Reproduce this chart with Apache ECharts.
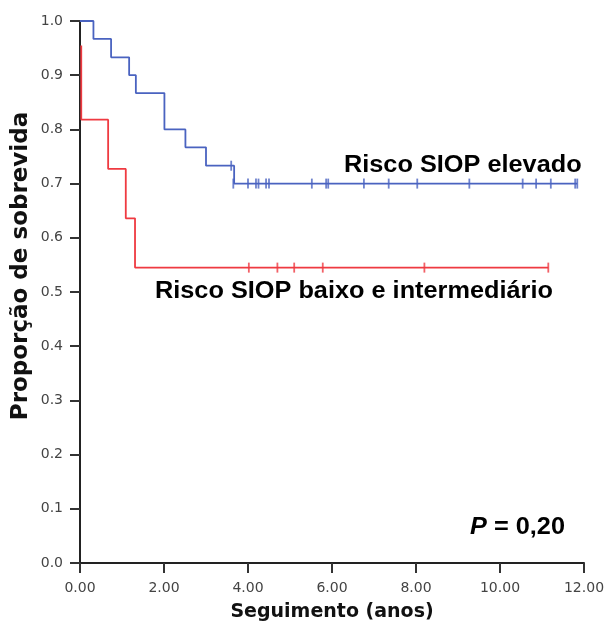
<!DOCTYPE html>
<html>
<head>
<meta charset="utf-8">
<script src="https://cdn.jsdelivr.net/npm/echarts@6/dist/echarts.min.js"></script>
<style>
  html, body { margin: 0; padding: 0; background: #fff; }
  #chart { width: 608px; height: 626px; }
</style>
</head>
<body>
<div id="chart"></div>
<script>
// Kaplan–Meier step points [time (years), survival proportion]
const highRiskSteps = [
  [0, 1.0], [0.32, 0.967], [0.74, 0.933], [1.17, 0.9], [1.33, 0.867],
  [2.01, 0.8], [2.51, 0.767], [3.0, 0.733], [3.67, 0.7], [11.84, 0.7]
];
const lowRiskSteps = [
  [0.03, 0.955], [0.03, 0.818], [0.67, 0.727], [1.09, 0.636],
  [1.31, 0.545], [11.15, 0.545]
];
// Censored observations [time, survival proportion]
const highRiskCensored = [
  [3.6, 0.733], [3.65, 0.7], [4.0, 0.7], [4.19, 0.7], [4.25, 0.7],
  [4.43, 0.7], [4.5, 0.7], [5.52, 0.7], [5.86, 0.7], [5.91, 0.7],
  [6.76, 0.7], [7.35, 0.7], [8.03, 0.7], [9.27, 0.7], [10.54, 0.7],
  [10.86, 0.7], [11.21, 0.7], [11.79, 0.7], [11.84, 0.7]
];
const lowRiskCensored = [
  [4.02, 0.545], [4.70, 0.545], [5.10, 0.545], [5.78, 0.545],
  [8.2, 0.545], [11.15, 0.545]
];
const xTicks = [0, 2, 4, 6, 8, 10, 12];
const yTicks = [0, 0.1, 0.2, 0.3, 0.4, 0.5, 0.6, 0.7, 0.8, 0.9, 1.0];

const BLUE = '#4a63c0';
const RED = '#ef3a41';
const SANS = '"Liberation Sans", Arial, Helvetica, sans-serif';
const DEJAVU = '"DejaVu Sans", sans-serif';

const chart = echarts.init(document.getElementById('chart'));
chart.setOption({
  animation: false,
  backgroundColor: '#fff',
  grid: { left: 80, right: 24, top: 21, bottom: 63, containLabel: false, outerBoundsMode: 'none' },
  xAxis: {
    type: 'value',
    min: xTicks[0], max: xTicks[xTicks.length - 1], interval: 2,
    name: 'Seguimento (anos)',
    nameLocation: 'middle',
    nameGap: 40,
    nameTextStyle: { fontFamily: DEJAVU, fontWeight: 'bold', fontSize: 19, color: '#111' },
    axisLine: { lineStyle: { color: '#222', width: 2 } },
    axisTick: { length: 10, lineStyle: { color: '#333', width: 2 } },
    axisLabel: { fontFamily: DEJAVU, fontSize: 14, color: '#444', margin: 18,
      formatter: v => v.toFixed(2) },
    splitLine: { show: false }
  },
  yAxis: {
    type: 'value',
    min: yTicks[0], max: yTicks[yTicks.length - 1], interval: 0.1,
    axisLine: { show: true, lineStyle: { color: '#222', width: 2 } },
    axisTick: { show: true, length: 10, lineStyle: { color: '#333', width: 2 } },
    axisLabel: { fontFamily: DEJAVU, fontSize: 14, color: '#444', margin: 17,
      formatter: v => v.toFixed(1) },
    splitLine: { show: false }
  },
  series: [
    {
      type: 'line', step: 'end', data: highRiskSteps, showSymbol: false,
      lineStyle: { color: BLUE, width: 1.8 }, z: 3
    },
    {
      type: 'line', step: 'end', data: lowRiskSteps, showSymbol: false,
      lineStyle: { color: RED, width: 1.8 }, z: 3
    },
    {
      type: 'scatter', data: highRiskCensored, symbol: 'rect', symbolSize: [1.8, 10],
      itemStyle: { color: BLUE }, z: 4
    },
    {
      type: 'scatter', data: lowRiskCensored, symbol: 'rect', symbolSize: [1.8, 10],
      itemStyle: { color: RED }, z: 4
    }
  ],
  graphic: [
    {
      // vertical axis title
      type: 'text', x: 21, y: 266, rotation: Math.PI / 2,
      style: { text: 'Proporção de sobrevida', font: 'bold 23px ' + DEJAVU, fill: '#111',
        align: 'center', verticalAlign: 'middle' }
    },
    {
      type: 'text', x: 344, y: 166, scaleX: 1.1,
      style: { text: 'Risco SIOP elevado', font: 'bold 23px ' + SANS, fill: '#000',
        align: 'left', verticalAlign: 'middle' }
    },
    {
      type: 'text', x: 155, y: 292, scaleX: 1.1,
      style: { text: 'Risco SIOP baixo e intermediário', font: 'bold 23px ' + SANS, fill: '#000',
        align: 'left', verticalAlign: 'middle' }
    },
    {
      type: 'text', x: 470, y: 528, scaleX: 1.1,
      style: {
        rich: {
          p: { font: 'italic bold 23px ' + SANS, fill: '#000' },
          r: { font: 'bold 23px ' + SANS, fill: '#000' }
        },
        text: '{p|P}{r| = 0,20}',
        align: 'left', verticalAlign: 'middle'
      }
    }
  ]
});
</script>
</body>
</html>
